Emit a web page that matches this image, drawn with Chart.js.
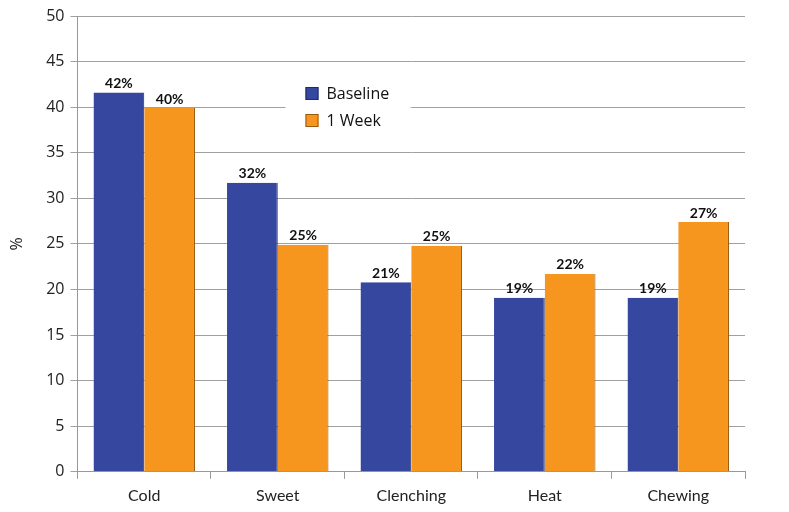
<!DOCTYPE html>
<html>
<head>
<meta charset="utf-8">
<script src="https://cdn.jsdelivr.net/npm/chart.js@4.4.1/dist/chart.umd.min.js"></script>
<style>
  html, body { margin: 0; padding: 0; background: #fff; }
  #wrap { width: 789px; height: 512px; }
</style>
</head>
<body>
<div id="wrap"><canvas id="sensChart" width="789" height="512"></canvas></div>
<script>
const categories = ['Cold', 'Sweet', 'Clenching', 'Heat', 'Chewing'];
const baseline = [41.6, 31.7, 20.8, 19.1, 19.1];
const oneWeek = [39.9, 24.9, 24.8, 21.7, 27.4];
const baselineLabels = ['42%', '32%', '21%', '19%', '19%'];
const oneWeekLabels = ['40%', '25%', '25%', '22%', '27%'];
const yTicks = [0, 5, 10, 15, 20, 25, 30, 35, 40, 45, 50];

const pointLabels = [baselineLabels, oneWeekLabels];

// values drawn above each bar
const barValuePlugin = {
    id: 'barValues',
    afterDatasetsDraw(chart) {
        const ctx = chart.ctx;
        ctx.save();
        ctx.font = 'bold 14px Lato';
        ctx.fillStyle = '#111';
        ctx.textAlign = 'center';
        ctx.textBaseline = 'bottom';
        chart.data.datasets.forEach((ds, di) => {
            chart.getDatasetMeta(di).data.forEach((bar, i) => {
                ctx.fillText(pointLabels[di][i], bar.x, bar.y - 2);
            });
        });
        ctx.restore();
    }
};

// legend box sitting inside the plot area
const innerLegendPlugin = {
    id: 'innerLegend',
    afterDatasetsDraw(chart) {
        const ctx = chart.ctx;
        const area = chart.chartArea;
        const x = area.left + 208;
        const y = area.top + 56;
        ctx.save();
        ctx.fillStyle = '#fff';
        ctx.fillRect(x, y, 125, 68);
        ctx.font = '16px "Open Sans"';
        ctx.textBaseline = 'middle';
        chart.data.datasets.forEach((ds, i) => {
            const ry = y + 22 + i * 27;
            ctx.fillStyle = ds.backgroundColor;
            ctx.fillRect(x + 20, ry - 7, 13, 13);
            ctx.strokeStyle = ds.borderColor;
            ctx.lineWidth = 1;
            ctx.strokeRect(x + 20.5, ry - 6.5, 12, 12);
            ctx.fillStyle = '#111';
            ctx.fillText(ds.label, x + 41, ry);
        });
        ctx.restore();
    }
};

const ctx = document.getElementById('sensChart').getContext('2d');
const chart = new Chart(ctx, {
    type: 'bar',
    data: {
        labels: categories,
        datasets: [{
            label: 'Baseline',
            data: baseline,
            backgroundColor: '#35479e',
            borderColor: '#1f2b66',
            borderWidth: { right: 1, top: 0, left: 0, bottom: 0 },
            borderSkipped: false
        }, {
            label: '1 Week',
            data: oneWeek,
            backgroundColor: '#f7961e',
            borderColor: '#9a5a10',
            borderWidth: { right: 1, top: 0, left: 0, bottom: 0 },
            borderSkipped: false
        }]
    },
    options: {
        responsive: false,
        animation: false,
        devicePixelRatio: 1,
        layout: { padding: { top: 16, right: 44, left: 4, bottom: 0 } },
        categoryPercentage: 0.76,
        barPercentage: 1.0,
        plugins: {
            legend: { display: false },
            tooltip: { enabled: false }
        },
        scales: {
            x: {
                grid: {
                    offset: true,
                    drawOnChartArea: false,
                    drawTicks: true,
                    tickLength: 7,
                    color: '#999'
                },
                border: { color: '#999' },
                ticks: {
                    color: '#222',
                    font: { family: 'Lato', size: 16 },
                    padding: 7
                }
            },
            y: {
                min: 0,
                max: 50,
                afterBuildTicks(axis) {
                    axis.ticks = yTicks.map(v => ({ value: v }));
                },
                grid: {
                    color: '#a0a0a0',
                    tickLength: 7
                },
                border: { color: '#999' },
                ticks: {
                    color: '#222',
                    font: { family: 'Open Sans', size: 16 },
                    padding: 6
                },
                title: {
                    display: true,
                    text: '%',
                    color: '#222',
                    font: { family: 'Open Sans', size: 16 },
                    padding: { bottom: 13 }
                }
            }
        }
    },
    plugins: [barValuePlugin, innerLegendPlugin]
});
</script>
</body>
</html>
